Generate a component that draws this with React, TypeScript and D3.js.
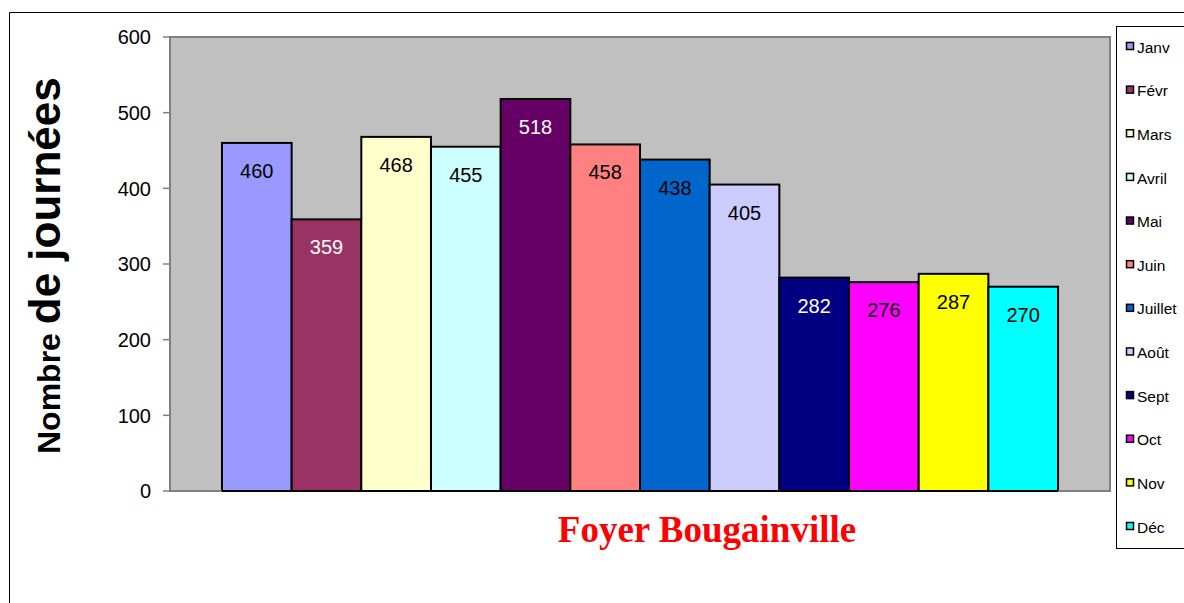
import React from 'react';
import * as d3 from 'd3';

const months = ['Janv', 'Févr', 'Mars', 'Avril', 'Mai', 'Juin', 'Juillet', 'Août', 'Sept', 'Oct', 'Nov', 'Déc'];
const journees = [460, 359, 468, 455, 518, 458, 438, 405, 282, 276, 287, 270];
const barColours = ['#9999FF', '#993366', '#FFFFCC', '#CCFFFF', '#660066', '#FF8080', '#0066CC', '#CCCCFF', '#000080', '#FF00FF', '#FFFF00', '#00FFFF'];
const labelColours = ['#000', '#fff', '#000', '#000', '#fff', '#000', '#000', '#000', '#fff', '#000', '#000', '#000'];
const yTicks = [0, 100, 200, 300, 400, 500, 600];

const W = 1184;
const H = 603;
const plot = { left: 170, right: 1110, top: 37, bottom: 491 };

export default function App() {
    const xScale = d3.scaleBand<string>()
        .domain(months)
        .range([plot.left, plot.right])
        .paddingInner(0)
        .paddingOuter(0.746);

    const yScale = d3.scaleLinear()
        .domain([0, 600])
        .range([plot.bottom, plot.top]);

    const legendY = d3.scalePoint<string>()
        .domain(months)
        .range([47, 527]);

    const font = '"Liberation Sans", Arial, sans-serif';

    return (
        <div style={{ position: 'absolute', left: 0, top: 0 }}>
            <svg width={W} height={H} style={{ display: 'block', background: '#fff' }}>
                {/* outer frame */}
                <line x1={9.5} y1={12.5} x2={W} y2={12.5} stroke="#000" />
                <line x1={9.5} y1={12.5} x2={9.5} y2={H} stroke="#000" />

                {/* plot area */}
                <rect x={plot.left} y={plot.top} width={plot.right - plot.left} height={plot.bottom - plot.top}
                    fill="#C0C0C0" stroke="#808080" strokeWidth={2} />

                {/* y axis */}
                <line x1={plot.left} y1={plot.top} x2={plot.left} y2={plot.bottom} stroke="#808080" strokeWidth={2} />
                {yTicks.map(t => (
                    <g key={t}>
                        <line x1={plot.left - 7} x2={plot.left} y1={yScale(t)} y2={yScale(t)} stroke="#808080" strokeWidth={1.5} />
                        <text x={151} y={yScale(t)} dy="0.36em" textAnchor="end" fontFamily={font} fontSize={20} fill="#000">{t}</text>
                    </g>
                ))}

                {/* bars */}
                {months.map((m, i) => (
                    <rect key={m}
                        x={xScale(m)}
                        y={yScale(journees[i])}
                        width={xScale.bandwidth()}
                        height={yScale(0) - yScale(journees[i])}
                        fill={barColours[i]}
                        stroke="#000"
                        strokeWidth={2} />
                ))}
                <line x1={plot.left} x2={plot.right} y1={plot.bottom} y2={plot.bottom} stroke="#808080" strokeWidth={1.5} />
                <line x1={xScale(months[0])} x2={(xScale(months[11]) as number) + xScale.bandwidth()} y1={plot.bottom} y2={plot.bottom} stroke="#000" strokeWidth={2} />

                {/* value labels */}
                {months.map((m, i) => (
                    <text key={m}
                        x={(xScale(m) as number) + xScale.bandwidth() / 2}
                        y={yScale(journees[i]) + 35}
                        textAnchor="middle"
                        fontFamily={font}
                        fontSize={20}
                        fill={labelColours[i]}>{journees[i]}</text>
                ))}

                {/* y title */}
                <text transform="translate(60, 454) rotate(-90)" fontFamily={font} fontWeight="bold" fill="#000">
                    <tspan fontSize={32}>Nombre </tspan>
                    <tspan fontSize={44}>de journées</tspan>
                </text>

                {/* chart title */}
                <text x={707} y={542} textAnchor="middle" fontFamily='"Liberation Serif", "Times New Roman", serif'
                    fontWeight="bold" fontSize={37} fill="#FF0000">Foyer Bougainville</text>

                {/* legend */}
                <rect x={1116.5} y={26.5} width={W} height={522} fill="#fff" stroke="#000" />
                {months.map((m, i) => (
                    <g key={m} transform={`translate(1126, ${legendY(m)})`}>
                        <rect x={0.5} y={-4.5} width={7} height={7} fill={barColours[i]} stroke="#000" strokeWidth={1.5} />
                        <text x={11} y={0} dy="0.36em" fontFamily={font} fontSize={15.5} fill="#000">{m}</text>
                    </g>
                ))}
            </svg>
        </div>
    );
}
